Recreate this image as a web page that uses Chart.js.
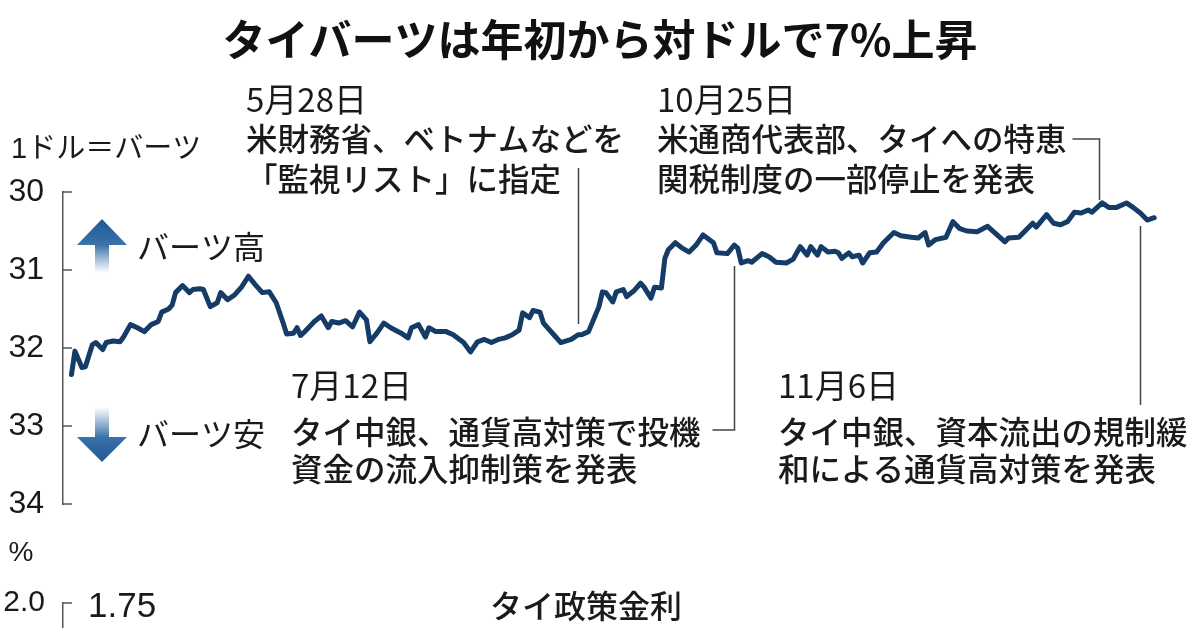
<!DOCTYPE html>
<html><head><meta charset="utf-8">
<script src="https://cdn.jsdelivr.net/npm/chart.js@4/dist/chart.umd.min.js"></script>
<style>
html,body{margin:0;padding:0;background:#fff;width:1200px;height:628px;overflow:hidden;position:relative}
canvas{position:absolute;left:0}
#main{top:0}
#rate{top:530px}
</style></head><body>
<canvas id="main" width="1200" height="628"></canvas>
<canvas id="rate" width="1200" height="340"></canvas>
<script>
// ---- data (2019, day of year) ----
const tradingDay = [
  2,3,5,6,8,9,11,12,14,16,
  17,19,21,23,25,27,28,30,31,32,
  34,36,37,39,40,42,44,45,47,49,
  51,53,55,57,59,61,63,64,66,67,
  68,69,72,74,76,77,79,81,83,85,
  87,88,90,92,94,97,99,100,102,104,
  105,107,110,112,115,117,119,121,123,125,
  127,129,131,132,134,135,137,138,141,143,
  146,148,149,151,154,155,156,158,159,161,
  162,164,166,167,169,170,172,173,174,176,
  178,180,182,184,187,188,191,193,194,195,
  197,198,201,203,205,208,210,211,212,214,
  215,217,218,220,222,223,224,226,227,229,
  230,232,234,236,239,241,244,246,248,249,
  251,254,256,258,260,263,266,268,271,272,
  275,277,279,280,283,285,287,289,291,293,
  295,296,299,301,303,306,308,310,312,314
];
const bahtPerDollar = [
  32.34,32.04,32.25,32.24,31.96,31.93,32.02,31.93,31.91,31.92,
  31.86,31.70,31.74,31.79,31.70,31.66,31.54,31.50,31.45,31.29,
  31.20,31.29,31.25,31.24,31.25,31.47,31.42,31.29,31.38,31.32,
  31.22,31.08,31.19,31.29,31.28,31.42,31.68,31.82,31.81,31.74,
  31.84,31.80,31.66,31.59,31.74,31.66,31.68,31.65,31.73,31.54,
  31.64,31.92,31.81,31.68,31.74,31.81,31.87,31.74,31.70,31.86,
  31.74,31.79,31.79,31.83,31.93,32.05,31.92,31.89,31.93,31.89,
  31.87,31.83,31.77,31.55,31.61,31.52,31.54,31.68,31.83,31.93,
  31.89,31.83,31.83,31.79,31.47,31.28,31.29,31.41,31.28,31.25,
  31.34,31.27,31.17,31.22,31.36,31.22,31.23,30.85,30.74,30.65,
  30.72,30.77,30.68,30.55,30.65,30.78,30.79,30.68,30.72,30.91,
  30.88,30.90,30.79,30.83,30.90,30.91,30.86,30.78,30.70,30.81,
  30.70,30.81,30.70,30.77,30.76,30.78,30.85,30.78,30.83,30.81,
  30.91,30.78,30.77,30.65,30.52,30.56,30.58,30.59,30.52,30.68,
  30.61,30.58,30.38,30.47,30.50,30.51,30.44,30.52,30.64,30.59,
  30.58,30.49,30.40,30.45,30.29,30.40,30.42,30.38,30.26,30.27,
  30.23,30.26,30.14,30.20,30.20,30.14,30.20,30.27,30.36,30.33
];
const bahtTicks = [30, 31, 32, 33, 34];
const eventDays = [148, 193, 298, 310];
const eventDates = ['5月28日', '7月12日', '10月25日', '11月6日'];
const eventLines = [
  ['米財務省、ベトナムなどを', '「監視リスト」に指定'],
  ['タイ中銀、通貨高対策で投機', '資金の流入抑制策を発表'],
  ['米通商代表部、タイへの特恵', '関税制度の一部停止を発表'],
  ['タイ中銀、資本流出の規制緩', '和による通貨高対策を発表']
];
const rateDay = [1, 218, 310];
const rateValue = [1.75, 1.50, 1.25];
const rateTicks = [2.0];

// ---- styles ----
const JP = "'Noto Sans CJK JP', sans-serif";
const NUM = "'Liberation Sans', 'Noto Sans CJK JP', sans-serif";
const TXT = '#1a1a1a';
const LINE = '#143c66';
const X_MIN = -0.44, X_MAX = 327.2;

function txt(ctx, s, x, y, font, align) {
  ctx.font = font; ctx.fillStyle = TXT; ctx.textAlign = align || 'left';
  ctx.textBaseline = 'middle'; ctx.fillText(s, x, y);
}
function arrow(ctx, cx, tip, base, tail) {
  const g = ctx.createLinearGradient(0, tip, 0, tail);
  g.addColorStop(0, '#1f5a93');
  g.addColorStop(Math.abs(base - tip) / Math.abs(tail - tip), '#3a72aa');
  g.addColorStop(1, 'rgba(255,255,255,0.9)');
  ctx.fillStyle = g;
  ctx.beginPath();
  ctx.moveTo(cx, tip);
  ctx.lineTo(cx + 25, base);
  ctx.lineTo(cx + 7, base);
  ctx.lineTo(cx + 7, tail);
  ctx.lineTo(cx - 7, tail);
  ctx.lineTo(cx - 7, base);
  ctx.lineTo(cx - 25, base);
  ctx.closePath();
  ctx.fill();
}

const annotations = {
  id: 'annotations',
  afterDraw(chart) {
    const {ctx, chartArea: a, scales: {x, y}} = chart;
    ctx.save();
    // inward ticks on the y axis
    ctx.strokeStyle = '#555'; ctx.lineWidth = 1.5;
    y.ticks.forEach(t => {
      const py = y.getPixelForValue(t.value);
      ctx.beginPath(); ctx.moveTo(a.left, py); ctx.lineTo(a.left + 9, py); ctx.stroke();
    });
    // unit label
    txt(ctx, '1ドル＝バーツ', 11, 150, `29px ${NUM}`);
    // arrows
    arrow(ctx, 102, 219, 245, 273);
    arrow(ctx, 102, 462, 437, 407);
    txt(ctx, 'バーツ高', 137, 247, `32px ${JP}`);
    txt(ctx, 'バーツ安', 137, 434, `32px ${JP}`);
    // event annotations
    const pos = [
      {x: 246, y: [99, 139, 179]},
      {x: 291, y: [385, 432, 469]},
      {x: 657, y: [99, 139, 179]},
      {x: 778, y: [385, 432, 469]}
    ];
    pos.forEach((p, i) => {
      txt(ctx, eventDates[i], p.x, p.y[0], `33px ${JP}`);
      txt(ctx, eventLines[i][0], p.x, p.y[1], `500 31.5px ${JP}`);
      txt(ctx, eventLines[i][1], p.x, p.y[2], `500 31.5px ${JP}`);
    });
    ctx.strokeStyle = '#444'; ctx.lineWidth = 1.5;
    const ex = eventDays.map(d => Math.round(x.getPixelForValue(d)) + 0.5);
    ctx.beginPath();
    // 5/28
    ctx.moveTo(ex[0], 168); ctx.lineTo(ex[0], 324);
    // 7/12
    ctx.moveTo(ex[1], 266); ctx.lineTo(ex[1], 430); ctx.lineTo(ex[1] - 22, 430);
    // 10/25
    ctx.moveTo(ex[2] - 27, 139); ctx.lineTo(ex[2], 139); ctx.lineTo(ex[2], 200);
    // 11/6
    ctx.moveTo(ex[3], 226); ctx.lineTo(ex[3], 405);
    ctx.stroke();
    // lower panel unit
    txt(ctx, '%', 21, 553, `28px ${NUM}`, 'center');
    ctx.restore();
  }
};

new Chart(document.getElementById('main'), {
  type: 'line',
  data: {
    datasets: [{
      data: tradingDay.map((d, i) => ({x: d, y: bahtPerDollar[i]})),
      borderColor: LINE, borderWidth: 5, pointRadius: 0, tension: 0,
      borderJoinStyle: 'round', borderCapStyle: 'round'
    }]
  },
  options: {
    responsive: false, animation: false, devicePixelRatio: 1,
    layout: {padding: {top: 0, bottom: 124, left: 0, right: 0}},
    plugins: {
      legend: {display: false}, tooltip: {enabled: false},
      title: {
        display: true, text: 'タイバーツは年初から対ドルで7%上昇',
        color: '#111', font: {family: JP, size: 43, weight: 'bold'},
        padding: {top: 14, bottom: 126.4}
      }
    },
    scales: {
      x: {type: 'linear', display: false, min: X_MIN, max: X_MAX},
      y: {
        reverse: true, min: bahtTicks[0], max: bahtTicks[bahtTicks.length - 1],
        afterFit(s) { s.width = 63; },
        afterBuildTicks(s) { s.ticks = bahtTicks.map(v => ({value: v})); },
        grid: {display: true, drawOnChartArea: false, drawTicks: false},
        border: {display: true, color: '#555', width: 1.5},
        ticks: {padding: 19, color: TXT, font: {family: "'Liberation Sans', sans-serif", size: 32}}
      }
    }
  },
  plugins: [annotations]
});

const rateText = {
  id: 'rateText',
  afterDraw(chart) {
    const {ctx, chartArea: a, scales: {y}} = chart;
    ctx.save();
    ctx.strokeStyle = '#555'; ctx.lineWidth = 1.5;
    rateTicks.forEach(v => {
      const py = y.getPixelForValue(v);
      ctx.beginPath(); ctx.moveTo(a.left, py); ctx.lineTo(a.left + 9, py); ctx.stroke();
    });
    txt(ctx, '1.75', 88, 77, `35px ${NUM}`);
    txt(ctx, 'タイ政策金利', 490, 76, `500 32px ${JP}`);
    ctx.restore();
  }
};

new Chart(document.getElementById('rate'), {
  type: 'line',
  data: {
    datasets: [{
      data: rateDay.map((d, i) => ({x: d, y: rateValue[i]})).concat([{x: 314, y: rateValue[rateValue.length - 1]}]),
      borderColor: '#d2412a', borderWidth: 4, pointRadius: 0, stepped: true
    }]
  },
  options: {
    responsive: false, animation: false, devicePixelRatio: 1,
    layout: {padding: {top: 73, bottom: 19, left: 0, right: 0}},
    plugins: {legend: {display: false}, tooltip: {enabled: false}},
    scales: {
      x: {type: 'linear', display: false, min: X_MIN, max: X_MAX},
      y: {
        min: 0, max: 2,
        afterFit(s) { s.width = 63; },
        afterBuildTicks(s) { s.ticks = rateTicks.map(v => ({value: v})); },
        grid: {display: true, drawOnChartArea: false, drawTicks: false},
        border: {display: true, color: '#555', width: 1.5},
        ticks: {padding: 18, color: TXT, callback: v => v.toFixed(1),
          font: {family: "'Liberation Sans', sans-serif", size: 30}}
      }
    }
  },
  plugins: [rateText]
});
</script>
</body></html>
